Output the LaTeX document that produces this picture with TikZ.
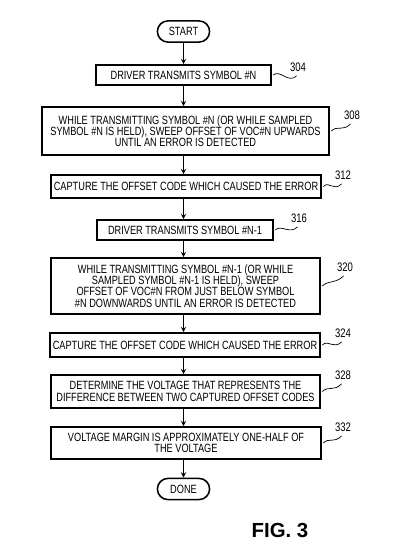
\documentclass[tikz,border=0pt]{standalone}
\usepackage{fontspec}
\setmainfont{Liberation Sans}[FakeStretch=0.77]
\newfontfamily\figfont{Liberation Sans}
\usetikzlibrary{shapes.misc}
\begin{document}
\begin{tikzpicture}[>=stealth, x=0.025cm, y=-0.025cm]
    \useasboundingbox (0,0) rectangle (400,556);
    \tikzset{
      stepbox/.style={draw, line width=1.1pt, align=center, inner sep=1pt,
        font=\fontsize{8.5}{8}\selectfont},
      term/.style={draw, line width=1.1pt, rounded rectangle, minimum width=1.375cm,
        minimum height=0.53cm, inner sep=1pt, font=\fontsize{8.5}{8}\selectfont},
      ref/.style={font=\fontsize{8.8}{8}\selectfont, inner sep=0pt},
      flow/.style={->, line width=0.7pt},
      wave/.style={line width=0.5pt}
    }
    \node[term] (start) at (183.5,31.5) {START};
    \node[stepbox, minimum width=4.375cm, minimum height=0.5cm] (b304) at (183.5,75) {DRIVER TRANSMITS SYMBOL \#N};
    \node[stepbox, minimum width=7.175cm, minimum height=1.2cm] (b308) at (185.5,131)
      {WHILE TRANSMITTING SYMBOL \#N (OR WHILE SAMPLED\\SYMBOL \#N IS HELD), SWEEP OFFSET OF VOC\#N UPWARDS\\UNTIL AN ERROR IS DETECTED};
    \node[stepbox, minimum width=6.75cm, minimum height=0.575cm] (b312) at (186,186.5) {CAPTURE THE OFFSET CODE WHICH CAUSED THE ERROR};
    \node[stepbox, minimum width=4.4cm, minimum height=0.5cm] (b316) at (185,230) {DRIVER TRANSMITS SYMBOL \#N-1};
    \node[stepbox, minimum width=6.725cm, minimum height=1.4cm] (b320) at (185.5,286)
      {WHILE TRANSMITTING SYMBOL \#N-1 (OR WHILE\\SAMPLED SYMBOL \#N-1 IS HELD), SWEEP\\OFFSET OF VOC\#N FROM JUST BELOW SYMBOL\\\#N DOWNWARDS UNTIL AN ERROR IS DETECTED};
    \node[stepbox, minimum width=6.75cm, minimum height=0.6cm] (b324) at (185,345) {CAPTURE THE OFFSET CODE WHICH CAUSED THE ERROR};
    \node[stepbox, minimum width=6.725cm, minimum height=0.825cm] (b328) at (185.5,391.5)
      {DETERMINE THE VOLTAGE THAT REPRESENTS THE\\DIFFERENCE BETWEEN TWO CAPTURED OFFSET CODES};
    \node[stepbox, minimum width=6.75cm, minimum height=0.8cm] (b332) at (186,443)
      {VOLTAGE MARGIN IS APPROXIMATELY ONE-HALF OF\\THE VOLTAGE};
    \node[term] (done) at (183.5,489) {DONE};

    % flow arrows
    \draw[flow] (start) -- (start |- b304.north);
    \draw[flow] (start |- b304.south) -- (start |- b308.north);
    \draw[flow] (start |- b308.south) -- (start |- b312.north);
    \draw[flow] (start |- b312.south) -- (start |- b316.north);
    \draw[flow] (start |- b316.south) -- (start |- b320.north);
    \draw[flow] (start |- b320.south) -- (start |- b324.north);
    \draw[flow] (start |- b324.south) -- (start |- b328.north);
    \draw[flow] (start |- b328.south) -- (start |- b332.north);
    \draw[flow] (start |- b332.south) -- (done);

    % reference numerals
    \node[ref] (l304) at (298,67) {304};
    \node[ref] (l308) at (352,115) {308};
    \node[ref] (l312) at (343,175) {312};
    \node[ref] (l316) at (299,218) {316};
    \node[ref] (l320) at (345,267) {320};
    \node[ref] (l324) at (343,333) {324};
    \node[ref] (l328) at (343,375) {328};
    \node[ref] (l332) at (343,427) {332};

    \foreach \n in {304,308,312,316,320,324,328,332}
      \draw[wave] (b\n.east) ++(1.5,0) .. controls +(6,-6) and +(-8,8) .. ([xshift=-1pt,yshift=-3pt]l\n.south);
    \node[font=\figfont\bfseries\fontsize{14.5}{14}\selectfont] (fig) at (280,530) {FIG. 3};
\end{tikzpicture}
\end{document}
